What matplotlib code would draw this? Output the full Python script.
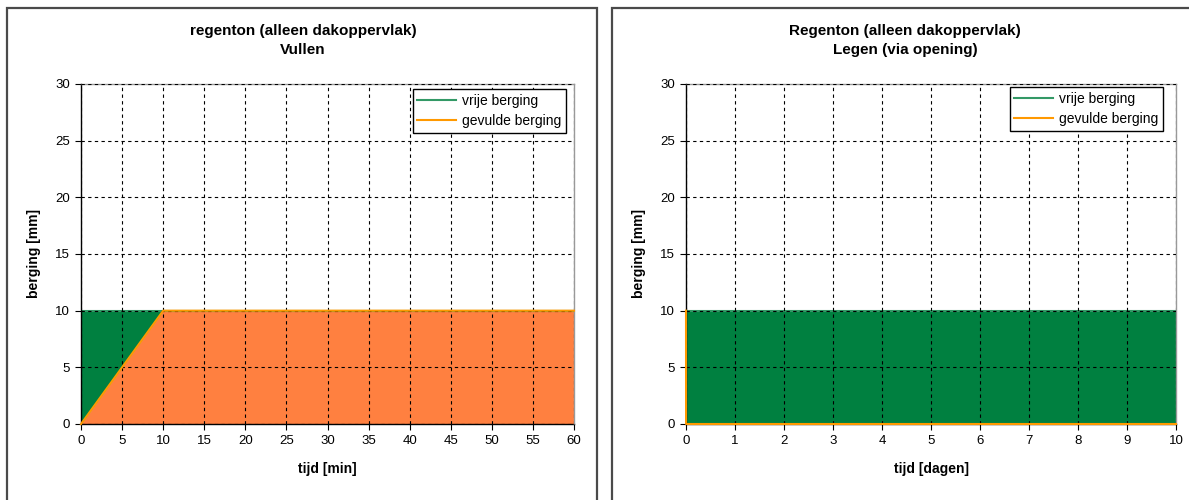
import matplotlib.pyplot as plt
from matplotlib.patches import Rectangle

plt.rcParams['font.family'] = ['Liberation Sans', 'DejaVu Sans']

# vullen: tijd in minuten
tijd_min = [0, 10, 60]
gevuld_vullen = [0, 10, 10]
vrij_vullen = [10, 0, 0]

# legen: tijd in dagen
tijd_dag = [0, 0.001, 10]
gevuld_legen = [10, 0, 0]
vrij_legen = [0, 10, 10]

groen_vlak = '#008040'
oranje_vlak = '#FF8040'
groen_lijn = '#339966'
oranje_lijn = '#FF9900'

W, H = 1189, 500
fig = plt.figure(figsize=(W / 100, H / 100), dpi=100)


def px(x0, y0, x1, y1):
    # pixel box (top-left origin) -> figure fraction [left, bottom, width, height]
    return [x0 / W, 1 - y1 / H, (x1 - x0) / W, (y1 - y0) / H]


# chart frames
for x0, x1 in [(7, 597), (612, 1200)]:
    l, b, w, h = px(x0, 8, x1, 520)
    fig.patches.append(Rectangle((l, b), w, h, transform=fig.transFigure,
                                 fill=False, edgecolor='#4a4a4a', lw=1.6))


def teken(ax, t, gevuld, vrij, xmax, xstap, titel, titel_x, xlabel, legend_box):
    totaal = [g + v for g, v in zip(gevuld, vrij)]
    ax.fill_between(t, 0, gevuld, color=oranje_vlak, lw=0)
    ax.fill_between(t, gevuld, totaal, color=groen_vlak, lw=0)
    l1, = ax.plot(t, totaal, color=groen_lijn, lw=1.5, label='vrije berging')
    l2, = ax.plot(t, gevuld, color=oranje_lijn, lw=1.5, label='gevulde berging',
                  clip_on=False, zorder=3)

    ax.set_xlim(0, xmax)
    ax.set_ylim(0, 30)
    ax.set_xticks(range(0, xmax + 1, xstap))
    ax.set_yticks(range(0, 31, 5))
    ax.grid(True, color='black', linestyle=(0, (3, 3)), lw=0.8)
    ax.set_axisbelow(False)
    ax.tick_params(direction='out', length=4, width=0.8, labelsize=9.5, pad=4)

    for s in ['left', 'bottom']:
        ax.spines[s].set_color('black')
        ax.spines[s].set_linewidth(1.0)
        ax.spines[s].set_zorder(2)
    for s in ['top', 'right']:
        ax.spines[s].set_color('#999999')
        ax.spines[s].set_linewidth(1.0)

    # title centred on the chart frame, not on the plot area
    fig.text(titel_x / W, 1 - 40.5 / H, titel, ha='center', va='center',
             fontsize=11, fontweight='bold', linespacing=1.45)
    ax.set_xlabel(xlabel, fontsize=10, fontweight='bold', labelpad=11)
    ax.set_ylabel('berging [mm]', fontsize=10, fontweight='bold', labelpad=10)

    lg = ax.legend(handles=[l1, l2], loc='upper right',
                   bbox_to_anchor=legend_box, bbox_transform=fig.transFigure,
                   fontsize=10, frameon=True, fancybox=False, edgecolor='black',
                   framealpha=1, handlelength=2.8, handletextpad=0.4,
                   borderpad=0.35, labelspacing=0.45, borderaxespad=0)
    lg.get_frame().set_linewidth(1.0)


ax1 = fig.add_axes(px(81, 84, 574, 424))
teken(ax1, tijd_min, gevuld_vullen, vrij_vullen, 60, 5,
      'regenton (alleen dakoppervlak)\nVullen', 303, 'tijd [min]',
      (566 / W, 1 - 89 / H))

ax2 = fig.add_axes(px(686, 84, 1176, 424))
teken(ax2, tijd_dag, gevuld_legen, vrij_legen, 10, 1,
      'Regenton (alleen dakoppervlak)\nLegen (via opening)', 905, 'tijd [dagen]',
      (1163 / W, 1 - 87 / H))

fig.savefig('out.png', dpi=100)
